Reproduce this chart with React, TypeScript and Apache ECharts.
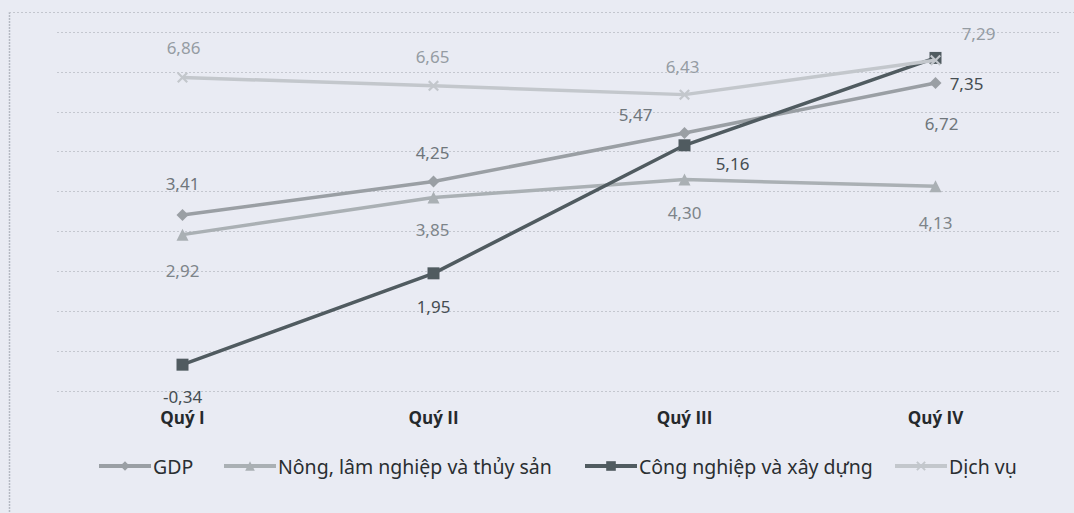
import React, { useEffect, useRef } from "react";
import * as echarts from "echarts";

const categories = ["Quý I", "Quý II", "Quý III", "Quý IV"];
const seriesNames = ["GDP", "Nông, lâm nghiệp và thủy sản", "Công nghiệp và xây dựng", "Dịch vụ"];
const gdp = [3.41, 4.25, 5.47, 6.72];
const nongNghiep = [2.92, 3.85, 4.3, 4.13];
const congNghiep = [-0.34, 1.95, 5.16, 7.35];
const dichVu = [6.86, 6.65, 6.43, 7.29];
const yMin = -1;
const yMax = 8;
const yStep = 1;

// label offsets (style only): [dx, dy] relative to the marker
const gdpOffsets = [[0, -32], [-1, -29], [-49, -18], [6, 40]];
const nnOffsets = [[0, 36], [-1, 32], [0, 33], [0, 36]];
const cnOffsets = [[0, 32], [0, 33], [48, 18], [31, 26]];
const dvOffsets = [[1, -30], [-1, -29], [-2, -28], [43, -27]];

const FONT = "Noto Sans";
const xSymbol = "path://M0,1.4L1.4,0L5,3.6L8.6,0L10,1.4L6.4,5L10,8.6L8.6,10L5,6.4L1.4,10L0,8.6L3.6,5Z";

const fmt = (v: number) => v.toFixed(2).replace(".", ",");

function buildData(values: number[], offsets: number[][], color: string) {
  return values.map((v, i) => ({
    value: v,
    label: {
      show: true,
      position: "inside",
      offset: offsets[i],
      formatter: () => fmt(v),
      color,
      fontFamily: FONT,
      fontSize: 17,
    },
  }));
}

export default function App() {
  const ref = useRef<HTMLDivElement>(null);
  useEffect(() => {
    document.body.style.margin = "0";
    if (!ref.current) return;
    const chart = echarts.init(ref.current, undefined, { renderer: "svg" });
    const colors = ["#9a9fa4", "#aab0b4", "#505b60", "#c3c7cc"];
    const legendLefts = [97, 222, 583, 893];
    chart.setOption({
      animation: false,
      backgroundColor: "#e9ebf3",
      color: colors,
      grid: { left: 57, right: 13, top: 32, bottom: 122 },
      graphic: [
        { type: "line", shape: { x1: 9.5, y1: 12, x2: 9.5, y2: 513 }, style: { stroke: "#b5b9c2", lineWidth: 1.5, lineDash: [2, 1] } },
        { type: "line", shape: { x1: 9, y1: 12.5, x2: 1074, y2: 12.5 }, style: { stroke: "#c3c6ce", lineWidth: 1, lineDash: [2, 2] } },
      ],
      legend: seriesNames.map((n, i) => ({
        data: [n],
        left: legendLefts[i],
        top: 456,
        padding: 0,
        itemWidth: 52,
        itemHeight: 12,
        itemGap: 0,
        lineStyle: { width: 4 },
        textStyle: { fontFamily: FONT, fontSize: 19.5, color: "#2a2e31", padding: [0, 0, 0, -3] },
      })),
      xAxis: {
        type: "category",
        data: categories,
        boundaryGap: true,
        axisLine: { show: false },
        axisTick: { show: false },
        axisLabel: { fontFamily: "Open Sans", fontSize: 17, fontWeight: "bold", color: "#25292c", margin: 18 },
      },
      yAxis: {
        type: "value",
        min: yMin,
        max: yMax,
        interval: yStep,
        axisLabel: { show: false },
        axisLine: { show: false },
        axisTick: { show: false },
        splitLine: { lineStyle: { color: "#c4c7cf", type: [2, 2], width: 1 } },
      },
      series: [
        {
          name: seriesNames[0],
          type: "line",
          data: buildData(gdp, gdpOffsets, "#6f767b"),
          symbol: "diamond",
          symbolSize: 12,
          lineStyle: { width: 3.5, color: colors[0] },
          itemStyle: { color: colors[0] },
          z: 3,
        },
        {
          name: seriesNames[1],
          type: "line",
          data: buildData(nongNghiep, nnOffsets, "#7d8489"),
          symbol: "triangle",
          symbolSize: 12,
          lineStyle: { width: 3.5, color: colors[1] },
          itemStyle: { color: colors[1] },
          z: 2,
        },
        {
          name: seriesNames[2],
          type: "line",
          data: buildData(congNghiep, cnOffsets, "#454d51"),
          symbol: "rect",
          symbolSize: 12,
          lineStyle: { width: 3.5, color: colors[2] },
          itemStyle: { color: colors[2] },
          z: 4,
        },
        {
          name: seriesNames[3],
          type: "line",
          data: buildData(dichVu, dvOffsets, "#959ca3"),
          symbol: xSymbol,
          symbolSize: 11,
          lineStyle: { width: 3.5, color: colors[3] },
          itemStyle: { color: colors[3] },
          z: 5,
        },
      ],
    });
    return () => chart.dispose();
  }, []);
  return <div ref={ref} style={{ width: 1074, height: 513 }} />;
}
